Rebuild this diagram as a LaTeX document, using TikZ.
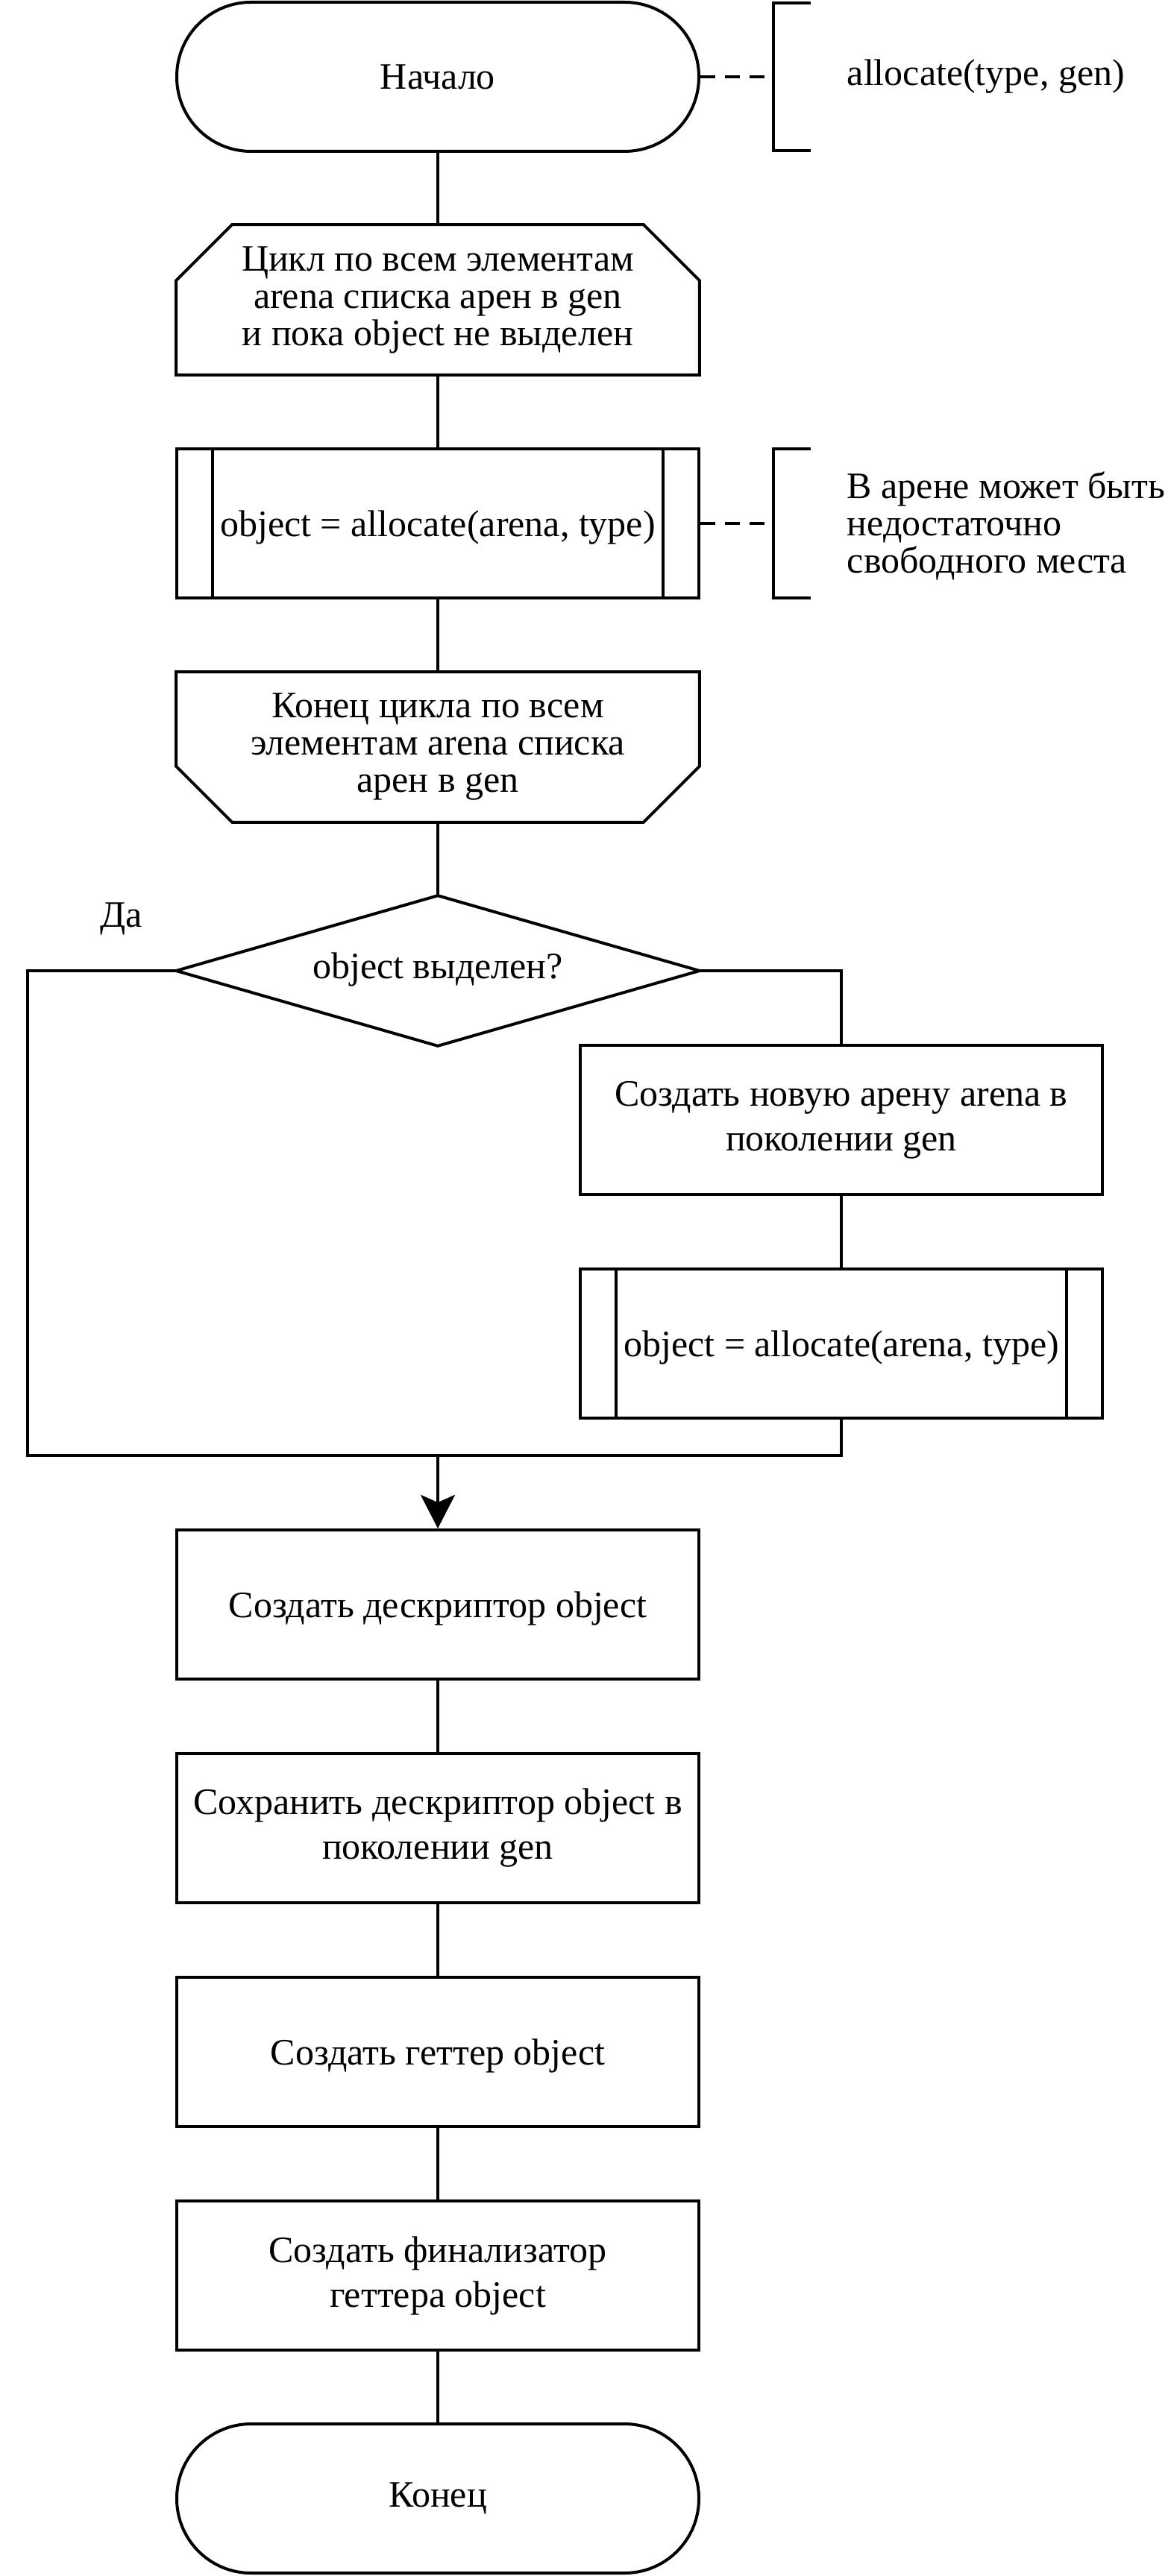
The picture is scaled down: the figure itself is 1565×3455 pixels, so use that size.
\documentclass[tikz,border=0pt]{standalone}
\usepackage{fontspec}
\setmainfont{Liberation Serif}
\usetikzlibrary{calc,arrows.meta}
\begin{document}
\begin{tikzpicture}[x=0.25pt,y=-0.25pt,
  every node/.style={font=\fontsize{12.5pt}{12.5pt}\selectfont},
  base/.style={minimum width=175pt, minimum height=50pt, inner sep=0pt, align=center},
  box/.style={base, draw, line width=1pt},
  blank/.style={base, draw=none},
  term/.style={base, draw, rounded corners=24.9pt, line width=1pt},
  one/.style={text height=11.5pt, text depth=2.7pt},
  two/.style={font=\fontsize{12.5pt}{15pt}\selectfont},
  line/.style={line width=1pt},
  flow/.style={line, -{Stealth[length=11.25pt,width=11.5pt,inset=2.5pt]}},
  annline/.style={line, dash pattern=on 5pt off 3.25pt},
  note/.style={anchor=west, align=left, inner sep=0pt}
]
\useasboundingbox (0,0) rectangle (1565,3455);

% main column
\node[term] (start) at (587,103) {Начало};

\node[blank] (ls) at (587,402) {Цикл по всем элементам\\arena списка арен в gen\\и пока object не выделен};
\draw[line] ($(ls.north west)+(75,0)$) -- ($(ls.north east)+(-75,0)$) -- ($(ls.north east)+(0,75)$) -- (ls.south east) -- (ls.south west) -- ($(ls.north west)+(0,75)$) -- cycle;

\node[box, one] (p1) at (587,702) {object = allocate(arena, type)};
\draw[line] ($(p1.north west)+(50,0)$) -- ($(p1.south west)+(50,0)$);
\draw[line] ($(p1.north east)+(-50,0)$) -- ($(p1.south east)+(-50,0)$);

\node[blank] (le) at (587,1002) {Конец цикла по всем\\элементам arena списка\\арен в gen};
\draw[line] (le.north west) -- (le.north east) -- ($(le.south east)+(0,-75)$) -- ($(le.south east)+(-75,0)$) -- ($(le.south west)+(75,0)$) -- ($(le.south west)+(0,-75)$) -- cycle;

\node[blank, text height=8.8pt, text depth=3.6pt] (dec) at (587,1302) {object выделен?};
\draw[line] (dec.north) -- (dec.east) -- (dec.south) -- (dec.west) -- cycle;

\node[box, two] (newa) at (1128,1502) {Создать новую арену arena в\\поколении gen};

\node[box, one] (p2) at (1128,1802) {object = allocate(arena, type)};
\draw[line] ($(p2.north west)+(50,0)$) -- ($(p2.south west)+(50,0)$);
\draw[line] ($(p2.north east)+(-50,0)$) -- ($(p2.south east)+(-50,0)$);

\node[box, one] (desc) at (587,2152) {Создать дескриптор object};
\node[box, two] (save) at (587,2452) {Сохранить дескриптор object в\\поколении gen};
\node[box, one] (get) at (587,2752) {Создать геттер object};
\node[box, two] (fin) at (587,3052) {Создать финализатор\\геттера object};
\node[term] (end) at (587,3351) {Конец};

\node (da) at (163,1232) {Да};

% connectors
\draw[line] (start) -- (ls);
\draw[line] (ls) -- (p1);
\draw[line] (p1) -- (le);
\draw[line] (le) -- (dec);
\draw[line] (dec.east) -| (newa.north);
\draw[line] (newa) -- (p2);
\coordinate (jl) at (37,1952);
\coordinate (jm) at (587,1952);
\draw[line] (dec.west) -| (jl) -- (jm);
\draw[line] (p2.south) |- (jm);
\draw[flow] (jm) -- (desc.north);
\draw[line] (desc) -- (save);
\draw[line] (save) -- (get);
\draw[line] (get) -- (fin);
\draw[line] (fin) -- (end);

% annotations
\coordinate (b1) at (1037,103);
\draw[annline] (start.east) -- (b1);
\draw[line] (1087,4) -- (1037,4) -- (1037,202) -- (1087,202);
\node[note] (a1) at (1135,103) {allocate(type, gen)};

\coordinate (b2) at (1037,702);
\draw[annline] (p1.east) -- (b2);
\draw[line] (1087,602) -- (1037,602) -- (1037,802) -- (1087,802);
\node[note] (a2) at (1135,705) {В арене может быть\\недостаточно\\свободного места};
\end{tikzpicture}
\end{document}
